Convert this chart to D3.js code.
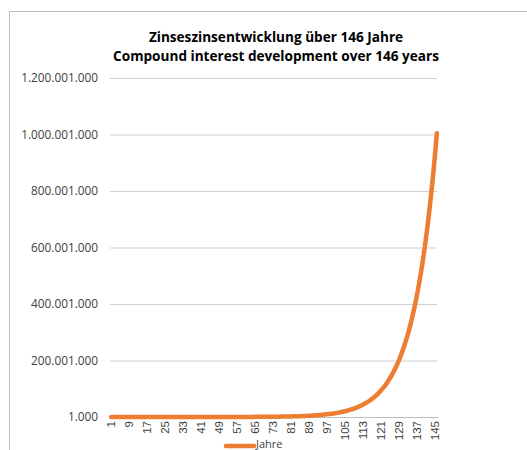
<!DOCTYPE html>
<html>
<head>
<meta charset="utf-8">
<script src="https://cdn.jsdelivr.net/npm/d3@7"></script>
<style>
  body { margin: 0; background: #fff; }
  svg { display: block; font-family: "Open Sans", "Liberation Sans", sans-serif; }
</style>
</head>
<body>
<svg id="chart" width="527" height="450"></svg>
<script>
const titleLines = ["Zinseszinsentwicklung über 146 Jahre", "Compound interest development over 146 years"];
const seriesName = "Jahre";

// capital per year (year 1 .. 146)
const values = [
  1000, 1100, 1210, 1331, 1464, 1611, 1772, 1949, 2144, 2358,
  2594, 2853, 3138, 3452, 3797, 4177, 4595, 5054, 5560, 6116,
  6727, 7400, 8140, 8954, 9850, 10835, 11918, 13110, 14421, 15863,
  17449, 19194, 21114, 23225, 25548, 28102, 30913, 34004, 37404, 41145,
  45259, 49785, 54764, 60240, 66264, 72890, 80180, 88197, 97017, 106719,
  117391, 129130, 142043, 156247, 171872, 189059, 207965, 228762, 251638, 276801,
  304482, 334930, 368423, 405265, 445792, 490371, 539408, 593349, 652683, 717952,
  789747, 868722, 955594, 1051153, 1156269, 1271895, 1399085, 1538993, 1692893, 1862182,
  2048400, 2253240, 2478564, 2726421, 2999063, 3298969, 3628866, 3991753, 4390928, 4830021,
  5313023, 5844325, 6428758, 7071634, 7778797, 8556677, 9412345, 10353579, 11388937, 12527831,
  13780614, 15158675, 16674543, 18341997, 20176197, 22193817, 24413199, 26854519, 29539971, 32493968,
  35743365, 39317701, 43249471, 47574418, 52331860, 57565046, 63321551, 69653706, 76619076, 84280984,
  92709082, 101979991, 112177990, 123395789, 135735368, 149308905, 164239795, 180663775, 198730152, 218603167,
  240463484, 264509832, 290960816, 320056897, 352062587, 387268845, 425995730, 468595303, 515454833, 567000317,
  623700348, 686070383, 754677422, 830145164, 913159680, 1004475648
];
const years = values.map((v, i) => i + 1);
const yTicks = [1000, 200001000, 400001000, 600001000, 800001000, 1000001000, 1200001000];
const xTickYears = [1, 9, 17, 25, 33, 41, 49, 57, 65, 73, 81, 89, 97, 105, 113, 121, 129, 137, 145];

const margin = {top: 78, right: 90, bottom: 33, left: 110};
const width = 527 - margin.left - margin.right;
const height = 450 - margin.top - margin.bottom;

const svg = d3.select("#chart");

// chart area frame (runs off the right and bottom of the picture)
svg.append("rect")
  .attr("x", 9.5).attr("y", 11.5)
  .attr("width", 700).attr("height", 700)
  .attr("fill", "none").attr("stroke", "#bfbfbf");

svg.append("g")
  .selectAll("text")
  .data(titleLines)
  .join("text")
  .attr("x", 276)
  .attr("y", (d, i) => 42 + i * 19)
  .attr("text-anchor", "middle")
  .attr("font-size", 13.6)
  .attr("font-weight", "bold")
  .attr("fill", "#000")
  .text(d => d);

const g = svg.append("g").attr("transform", `translate(${margin.left},${margin.top})`);

const x = d3.scaleBand().domain(years).range([0, width + 1]);
const y = d3.scaleLinear().domain([1000, 1200001000]).range([height, 0]);

const locale = d3.formatLocale({decimal: ",", thousands: ".", grouping: [3], currency: ["", ""]});
const fmt = locale.format(",d");

const yAxis = g.append("g")
  .call(d3.axisLeft(y).tickValues(yTicks).tickFormat(fmt).tickSize(-width).tickPadding(12));
yAxis.select(".domain").remove();
yAxis.selectAll(".tick line").attr("stroke", "#d0d0d0");
yAxis.selectAll(".tick text").attr("fill", "#404040").attr("font-size", 11.8)
  .attr("font-family", "'Open Sans', sans-serif");

const xAxis = g.append("g")
  .attr("transform", `translate(0,${height})`)
  .call(d3.axisBottom(x).tickValues(xTickYears).tickSize(0).tickPadding(4));
xAxis.select(".domain").attr("stroke", "#bfbfbf");
xAxis.selectAll(".tick text")
  .attr("fill", "#404040")
  .attr("font-size", 11.5)
  .attr("transform", "rotate(-90)")
  .attr("text-anchor", "end")
  .attr("x", -4)
  .attr("y", 0)
  .attr("dy", "0.35em");

const line = d3.line()
  .x((d, i) => x(years[i]) + x.bandwidth() / 2)
  .y(d => y(d))
  .curve(d3.curveMonotoneX);

g.append("path")
  .datum(values)
  .attr("fill", "none")
  .attr("stroke", "#ED7D31")
  .attr("stroke-width", 4.5)
  .attr("stroke-linecap", "round")
  .attr("d", line);

// legend
const lg = svg.append("g").attr("transform", "translate(226,444)");
lg.append("line").attr("x1", 0).attr("x2", 28).attr("y1", 2).attr("y2", 2)
  .attr("stroke", "#ED7D31").attr("stroke-width", 4.5).attr("stroke-linecap", "round");
lg.append("text").attr("x", 30).attr("y", 0).attr("dy", "0.35em")
  .attr("font-size", 11).attr("fill", "#404040").text(seriesName);
</script>
</body>
</html>
